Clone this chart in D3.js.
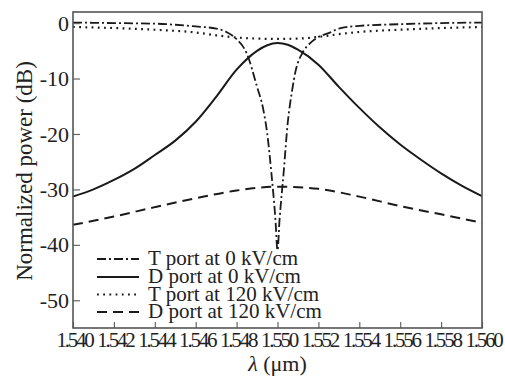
<!DOCTYPE html>
<html><head><meta charset="utf-8">
<script src="https://cdn.jsdelivr.net/npm/d3@7"></script>
<style>
body{margin:0;background:#fff;}
text{font-family:"Liberation Serif","Times New Roman",serif;fill:#222;}
</style></head>
<body><svg id="c" width="505" height="376"></svg>
<script>
// ---- data ----
const xTicks = [1.540,1.542,1.544,1.546,1.548,1.550,1.552,1.554,1.556,1.558,1.560];
const yTicks = [0,-10,-20,-30,-40,-50];
const seriesNames = ["T port at 0 kV/cm","D port at 0 kV/cm","T port at 120 kV/cm","D port at 120 kV/cm"];

const lamT0 = [1.540,1.542,1.544,1.545,1.546,1.547,1.5475,1.548,1.5485,1.549,1.5493,1.5495,1.5497,1.5499,1.5500,1.5501,1.5503,1.5505,1.5507,1.5509,1.5512,1.5516,1.552,1.5525,1.553,1.554,1.556,1.558,1.560];
const valT0 = [0.1,0.0,-0.1,-0.3,-0.6,-1.0,-1.6,-2.9,-5.5,-11.5,-15.5,-20,-27,-35.5,-41,-35.5,-27,-18,-12.5,-8.4,-5.5,-3.6,-2.5,-1.8,-1.0,-0.5,-0.2,0.0,0.1];

const lamD0 = [1.540,1.541,1.542,1.543,1.544,1.545,1.546,1.547,1.548,1.549,1.5495,1.550,1.5505,1.551,1.552,1.553,1.554,1.555,1.556,1.557,1.558,1.559,1.560];
const valD0 = [-31.3,-30.0,-28.3,-26.3,-23.8,-21.2,-17.8,-13.3,-8.4,-5.0,-4.0,-3.6,-3.9,-4.8,-7.5,-11.5,-15.3,-18.8,-21.9,-24.6,-27.1,-29.3,-31.2];

const lamT120 = [1.540,1.542,1.544,1.546,1.547,1.548,1.549,1.550,1.551,1.552,1.553,1.554,1.556,1.558,1.560];
const valT120 = [-0.7,-0.9,-1.2,-1.7,-2.2,-2.6,-2.8,-2.85,-2.8,-2.5,-2.0,-1.6,-1.2,-0.9,-0.7];

const lamD120 = [1.540,1.542,1.544,1.546,1.548,1.550,1.552,1.554,1.556,1.558,1.560];
const valD120 = [-36.4,-34.9,-33.2,-31.6,-30.2,-29.5,-29.9,-31.3,-33.0,-34.5,-36.0];

// ---- layout ----
const svg = d3.select("#c");
const L=73, R=482, T=12, B=328;
const x = d3.scaleLinear().domain([1.540,1.560]).range([L,R]);
const y = d3.scaleLinear().domain([-55,2]).range([B,T]);

const styles = [
  {dash:"9,3,2,3", w:1.8},
  {dash:null, w:2},
  {dash:"1.8,4.4", w:2.2},
  {dash:"10,6", w:2}
];
const data = [
  lamT0.map((l,i)=>[l,valT0[i]]),
  lamD0.map((l,i)=>[l,valD0[i]]),
  lamT120.map((l,i)=>[l,valT120[i]]),
  lamD120.map((l,i)=>[l,valD120[i]])
];

const line = d3.line().x(d=>x(d[0])).y(d=>y(d[1])).curve(d3.curveMonotoneX);
const g = svg.append("g");
g.append("clipPath").attr("id","clip").append("rect").attr("x",L).attr("y",T).attr("width",R-L).attr("height",B-T);
data.forEach((d,i)=>{
  g.append("path").attr("d",line(d)).attr("fill","none").attr("stroke","#1a1a1a")
   .attr("stroke-width",styles[i].w).attr("stroke-dasharray",styles[i].dash)
   .attr("clip-path","url(#clip)");
});

// axes (ticks inward)
const xAxis = d3.axisBottom(x).tickValues(xTicks).tickSize(-6).tickPadding(0).tickFormat(d3.format(".3f"));
const gx = svg.append("g").attr("transform",`translate(0,${B})`).call(xAxis);
gx.select(".domain").remove();
gx.selectAll(".tick line").attr("stroke","#666").attr("stroke-width",1.2);
gx.selectAll(".tick text").attr("font-size",21).attr("dy",null).attr("y",19)
  .attr("letter-spacing",-2.2).attr("dx",1).attr("fill","#222");

const yAxis = d3.axisLeft(y).tickValues(yTicks).tickSize(-7).tickPadding(4).tickFormat(d=>d===0?"0":"-"+Math.abs(d));
const gy = svg.append("g").attr("transform",`translate(${L},0)`).call(yAxis);
gy.select(".domain").remove();
gy.selectAll(".tick line").attr("stroke","#666").attr("stroke-width",1.2);
gy.selectAll(".tick text").attr("font-size",22).attr("x",-4).attr("fill","#222");

// frame
svg.append("rect").attr("x",L).attr("y",T).attr("width",R-L).attr("height",B-T)
  .attr("fill","none").attr("stroke","#555").attr("stroke-width",1.6);

// axis labels
svg.append("text").attr("transform",`translate(32,${(T+B)/2+1}) rotate(-90)`)
  .attr("text-anchor","middle").attr("font-size",23).text("Normalized power (dB)");
const xl = svg.append("text").attr("x",(L+R)/2).attr("y",371).attr("text-anchor","middle").attr("font-size",22);
xl.append("tspan").attr("font-style","italic").text("λ");
xl.append("tspan").text(" (μm)");

// legend
const legY = [265,283,300.5,318];
seriesNames.forEach((n,i)=>{
  svg.append("line").attr("x1",97).attr("x2",139).attr("y1",legY[i]-6).attr("y2",legY[i]-6)
    .attr("stroke","#1a1a1a").attr("stroke-width",styles[i].w).attr("stroke-dasharray",styles[i].dash);
  svg.append("text").attr("x",148).attr("y",legY[i]).attr("font-size",21).text(n);
});
</script></body></html>
